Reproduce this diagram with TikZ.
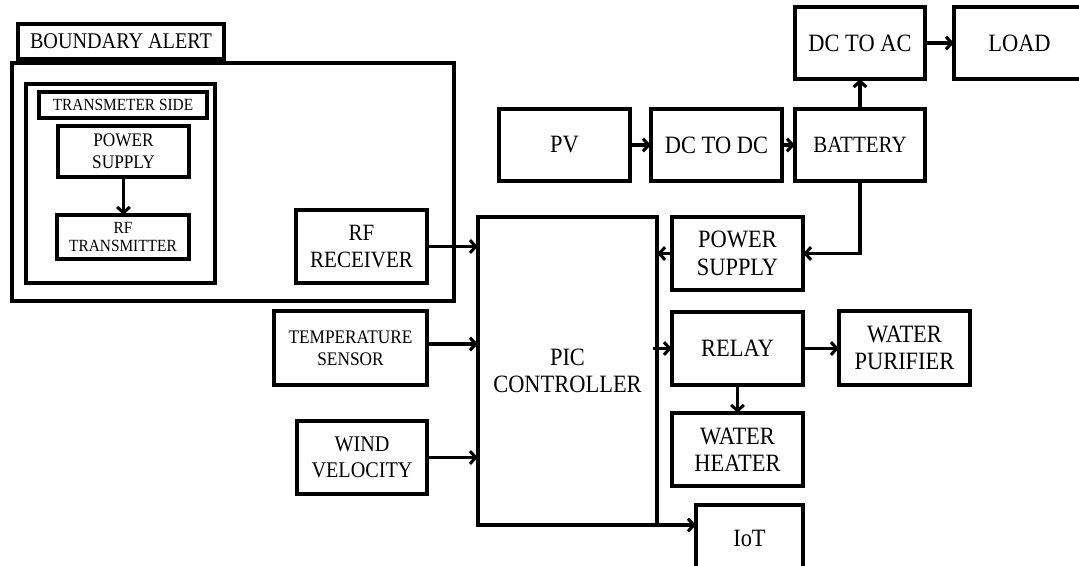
\documentclass[tikz,border=0pt]{standalone}
\usepackage{fontspec}
\setmainfont{Liberation Serif}[FakeStretch=0.9]
\usetikzlibrary{arrows.meta}
\begin{document}
\begin{tikzpicture}[x=0.75pt,y=-0.75pt,
  box/.style={draw,line width=2.3pt,inner sep=0pt,outer sep=0pt,align=center,font=\fontsize{16.8}{20}\selectfont},
  medbox/.style={box,font=\fontsize{17.5}{20.5}\selectfont},
  bigbox/.style={box,font=\fontsize{18.7}{20.5}\selectfont},
  smallbox/.style={box,font=\fontsize{12.8}{13}\selectfont},
  midbox/.style={box,font=\fontsize{14.4}{16.5}\selectfont},
  arr/.style={line width=2.3pt,-{Straight Barb[length=4.5pt,width=9.5pt]}}]
\clip (0,0) rectangle (1079,566);
% boundary alert group
\node[box, minimum width=154.5pt, minimum height=26.25pt] (balert) at (121,41.5) {BOUNDARY ALERT};
\node[box, minimum width=331.5pt, minimum height=178.5pt] (outer) at (233,182) {};
\node[box, minimum width=141.75pt, minimum height=149.25pt] (txside) at (120.5,183.5) {};
\node[smallbox, minimum width=126pt, minimum height=19.5pt] (tsl) at (123,105) {TRANSMETER SIDE};
\node[midbox, minimum width=98.25pt, minimum height=38.25pt] (ps1) at (123.5,151.5) {POWER\\SUPPLY};
\node[smallbox, minimum width=99pt, minimum height=33pt] (rft) at (123,237) {RF\\TRANSMITTER};
\node[medbox, minimum width=98.25pt, minimum height=54.75pt] (rfr) at (361.5,246.5) {RF\\RECEIVER};
% sensors
\node[midbox, minimum width=114.75pt, minimum height=55.5pt] (temp) at (350.5,348) {TEMPERATURE\\SENSOR};
\node[box, minimum width=97.5pt, minimum height=54.75pt] (wind) at (362,457.5) {WIND\\VELOCITY};
% controller
\node[bigbox, minimum width=134.25pt, minimum height=231pt] (pic) at (567.5,371) {PIC\\CONTROLLER};
% power chain
\node[bigbox, minimum width=98.25pt, minimum height=54pt] (pv) at (564.5,145) {PV};
\node[bigbox, minimum width=98.25pt, minimum height=54pt] (dcdc) at (716.5,145) {DC TO DC};
\node[medbox, minimum width=97.5pt, minimum height=54pt] (batt) at (860,145) {BATTERY};
\node[bigbox, minimum width=97.5pt, minimum height=54pt] (dcac) at (860,43) {DC TO AC};
\node[bigbox, minimum width=98.25pt, minimum height=54pt] (load) at (1019.5,43) {LOAD};
% outputs
\node[bigbox, minimum width=98.25pt, minimum height=54.75pt] (ps2) at (737.5,253.5) {POWER\\SUPPLY};
\node[bigbox, minimum width=98.25pt, minimum height=54.75pt] (relay) at (737.5,348.5) {RELAY};
\node[bigbox, minimum width=98.25pt, minimum height=55.5pt] (pur) at (904.5,348) {WATER\\PURIFIER};
\node[bigbox, minimum width=98.25pt, minimum height=54.75pt] (heat) at (737.5,449.5) {WATER\\HEATER};
\node[bigbox, minimum width=80.25pt, minimum height=50.25pt] (iot) at (749.5,538.5) {IoT};
% connectors
\draw[arr] (ps1.south) -- (ps1.south |- rft.north);
\draw[arr] (rfr.east) -- (rfr.east -| pic.west);
\draw[arr] ([yshift=3pt]temp.east) -- ([yshift=3pt]temp.east -| pic.west);
\draw[arr] (wind.east) -- (wind.east -| pic.west);
\draw[arr] (ps2.west) -- (ps2.west -| pic.east);
\draw[arr] (batt.south) |- (ps2.east);
\draw[arr] (batt.north) -- (dcac.south);
\draw[arr] (pv.east) -- (dcdc.west);
\draw[arr] (dcdc.east) -- (batt.west);
\draw[arr] (dcac.east) -- (load.west);
\draw[arr] ([xshift=-3pt]relay.west -| pic.east) -- (relay.west);
\draw[arr] (relay.east) -- (relay.east -| pur.west);
\draw[arr] (relay.south) -- (heat.north);
\draw[arr] ([xshift=-8pt]pic.south east) -- (pic.south east -| iot.west);
\end{tikzpicture}
\end{document}
